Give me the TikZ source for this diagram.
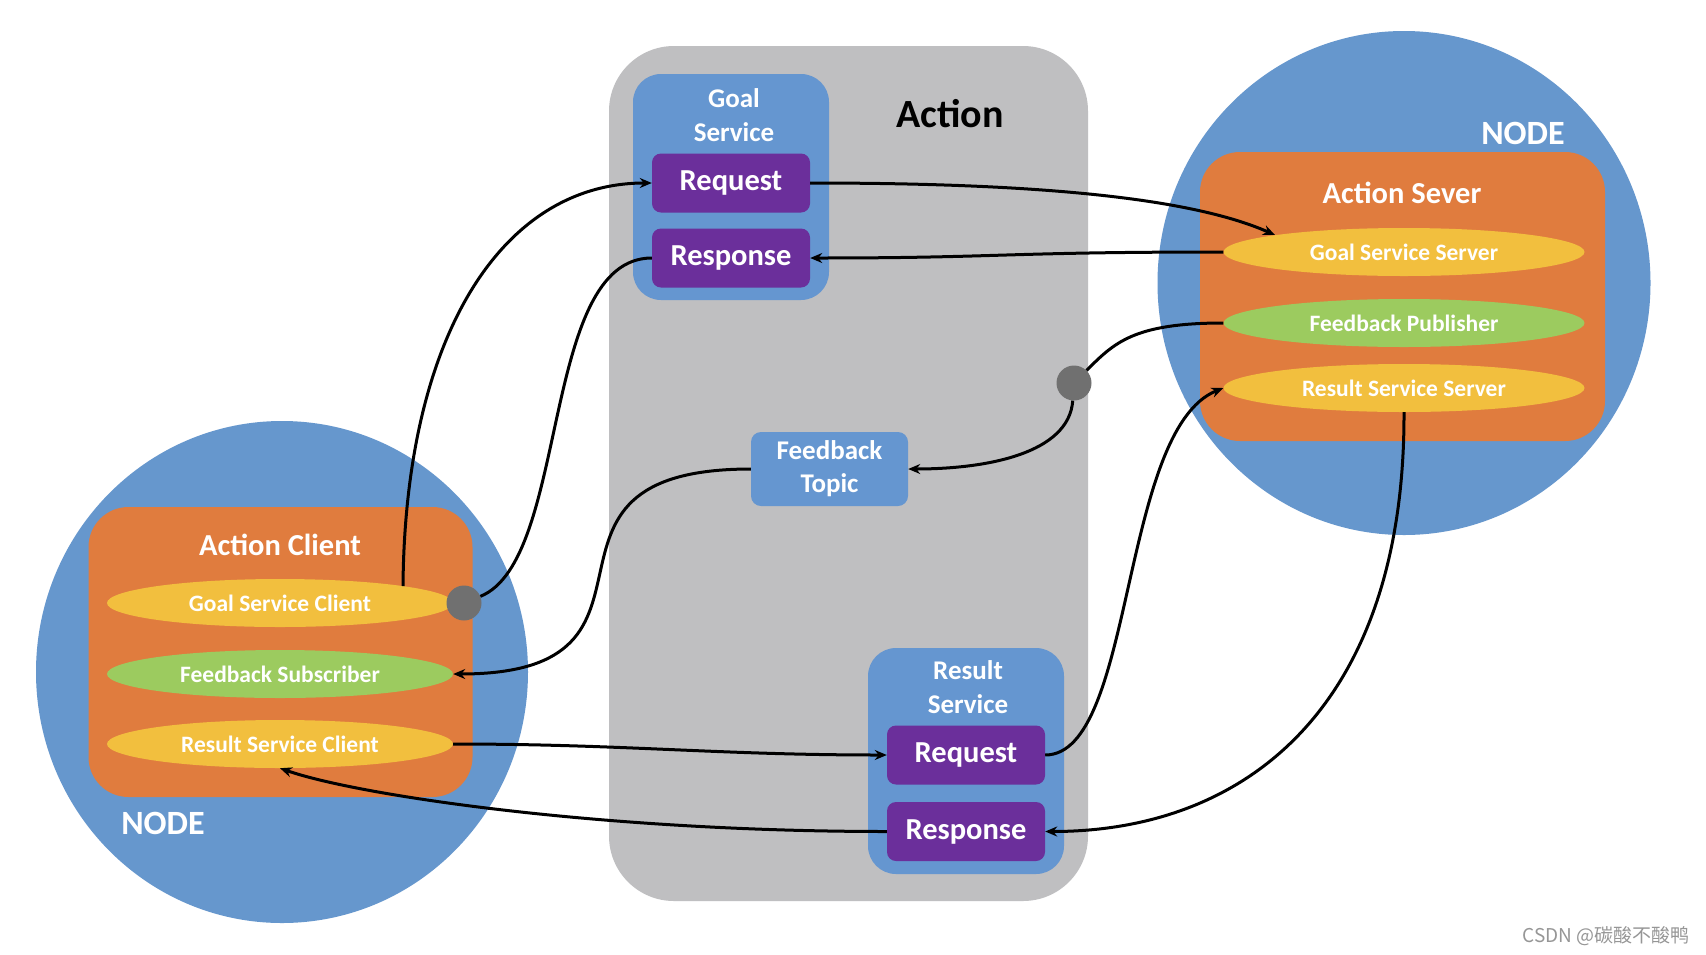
\documentclass[tikz,border=0pt]{standalone}
\usepackage{fontspec}
\setmainfont{Carlito}
\newfontfamily\cjk{Noto Sans CJK SC}
\usetikzlibrary{shapes.geometric,arrows.meta,calc}
\definecolor{nodeblue}{RGB}{102,151,205}
\definecolor{boxblue}{RGB}{101,150,208}
\definecolor{actgray}{RGB}{191,191,193}
\definecolor{orangebox}{RGB}{224,124,62}
\definecolor{yellowell}{RGB}{242,191,62}
\definecolor{greenell}{RGB}{156,203,95}
\definecolor{purplebox}{RGB}{107,47,155}
\definecolor{dotgray}{RGB}{112,112,112}
\definecolor{wmgray}{RGB}{150,150,150}
\begin{document}
\begin{tikzpicture}[x=1pt,y=-1pt,
  nodecircle/.style={ellipse,fill=nodeblue,inner sep=0pt},
  orangepanel/.style={rectangle,rounded corners=40pt,fill=orangebox,inner sep=0pt},
  servicebox/.style={rectangle,rounded corners=28pt,fill=boxblue,inner sep=0pt,minimum width=196pt,minimum height=226pt},
  msgbox/.style={rectangle,rounded corners=9pt,fill=purplebox,text=white,inner sep=0pt,minimum width=158pt,minimum height=59pt,font=\fontsize{30.5}{34}\selectfont\bfseries},
  ellyellow/.style={ellipse,fill=yellowell,text=white,inner sep=0pt,minimum height=48pt,font=\fontsize{23.5}{26}\selectfont\bfseries},
  ellgreen/.style={ellyellow,fill=greenell},
  whitelabel/.style={text=white,align=center,inner sep=0pt,font=\fontsize{27}{34}\selectfont\bfseries},
  titlelabel/.style={text=white,inner sep=0pt,font=\fontsize{30.5}{34}\selectfont\bfseries},
  nodelabel/.style={text=white,inner sep=0pt,font=\fontsize{34}{38}\selectfont\bfseries},
  graydot/.style={circle,fill=dotgray,inner sep=0pt,minimum size=35pt},
  conn/.style={line width=3pt,draw=black},
  arr/.style={conn,-{Stealth[length=12pt,width=10pt]}}
]
\useasboundingbox (0,0) rectangle (1706,954);
\fill[white] (0,0) rectangle (1706,954);

% Action area
\node[rectangle,rounded corners=65pt,fill=actgray,minimum width=479pt,minimum height=855pt,inner sep=0pt] (action) at (848.5,473.5) {};
\node[inner sep=0pt,font=\fontsize{40}{44}\selectfont\bfseries] (actiontitle) at (950,114) {Action};

% Goal service
\node[servicebox] (gsbox) at (731,187) {};
\node[whitelabel] (gslabel) at (734,115) {Goal\\Service};
\node[msgbox] (greq) at (731,183) {Request};
\node[msgbox] (gresp) at (731,258) {Response};

% Feedback topic
\node[rectangle,rounded corners=10pt,fill=boxblue,minimum width=157pt,minimum height=74pt,inner sep=0pt,whitelabel,font=\fontsize{27}{33}\selectfont\bfseries] (ftopic) at (829.5,469) {Feedback\\Topic};

% Result service
\node[servicebox] (rsbox) at (966,761) {};
\node[whitelabel] (rslabel) at (968,687) {Result\\Service};
\node[msgbox] (rreq) at (966,755) {Request};
\node[msgbox] (rresp) at (966,831.5) {Response};

% Right node (server)
\node[nodecircle,minimum width=493pt,minimum height=504pt] (rnode) at (1404,283) {};
\node[nodelabel] (rnodelabel) at (1523,133) {NODE};
\node[orangepanel,minimum width=405pt,minimum height=289pt] (server) at (1402.5,296.5) {};
\node[titlelabel] (servertitle) at (1402,193) {Action Sever};
\node[ellyellow,minimum width=361pt] (gss) at (1404,252) {Goal Service Server};
\node[ellgreen,minimum width=361pt] (fp) at (1404,323) {Feedback Publisher};
\node[ellyellow,minimum width=361pt] (rss) at (1404,388) {Result Service Server};

% Left node (client)
\node[nodecircle,minimum width=492pt,minimum height=502pt] (lnode) at (282,672) {};
\node[nodelabel] (lnodelabel) at (163,823) {NODE};
\node[orangepanel,minimum width=384pt,minimum height=290pt] (client) at (280.5,652) {};
\node[titlelabel] (clienttitle) at (280,545) {Action Client};
\node[ellyellow,minimum width=346pt] (gsc) at (280,603) {Goal Service Client};
\node[ellgreen,minimum width=346pt] (fs) at (280,674) {Feedback Subscriber};
\node[ellyellow,minimum width=346pt] (rsc) at (280,744) {Result Service Client};

% Gray junction dots
\node[graydot] (dotc) at (464,603) {};
\node[graydot] (dots) at (1074,383) {};

% Connector end points on ellipse borders
\coordinate (gscTop) at ($(gsc.center)+(123,-17)$);
\coordinate (gssTop) at ($(gss.center)+(-129,-17)$);

% Connectors
\draw[arr] (gscTop) .. controls +(2,-250) and +(-150,0) .. (greq.west);
\draw[conn] (gresp.west) .. controls +(-112,0) and +(106,-43) .. (dotc);
\draw[arr] (greq.east) .. controls +(190,0) and +(-95,-42) .. (gssTop);
\draw[arr] (gss.west) .. controls +(-220,0) and +(190,0) .. (gresp.east);
\draw[conn] (fp.west) .. controls +(-90,0) and +(40,-40) .. (dots);
\draw[arr] (dots) .. controls +(-5,70) and +(80,0) .. (ftopic.east);
\draw[arr] (ftopic.west) .. controls +(-252,0) and +(245,0) .. (fs.east);
\draw[arr] (rsc.east) .. controls +(170,0) and +(-170,0) .. (rreq.west);
\draw[arr] (rreq.east) .. controls +(90,0) and +(-104,42) .. (rss.west);
\draw[arr] (rss.south) .. controls +(1,290) and +(205,0) .. (rresp.east);
\draw[arr] (rresp.west) .. controls +(-287,0) and +(77,27) .. (rsc.south);

% Watermark
\node[anchor=east,inner sep=0pt,text=wmgray,font=\cjk\fontsize{19}{22}\selectfont] (watermark) at (1690,936) {CSDN @碳酸不酸鸭};
\end{tikzpicture}
\end{document}
